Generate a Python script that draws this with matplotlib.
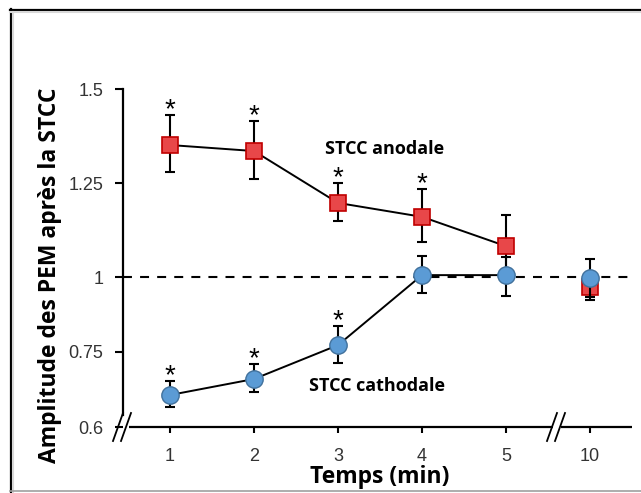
import numpy as np
import matplotlib
matplotlib.use("Agg")
import matplotlib.pyplot as plt
from matplotlib.lines import Line2D

# ---------------- data ----------------
time_labels = ["1", "2", "3", "4", "5", "10"]
anodal = [1.351, 1.335, 1.197, 1.160, 1.082, 0.967]
anodal_err_up = [0.080, 0.080, 0.053, 0.074, 0.083, 0.040]
anodal_err_down = [0.072, 0.074, 0.048, 0.067, 0.082, 0.044]
anodal_sig = [True, True, True, True, False, False]

cathodal = [0.664, 0.696, 0.773, 1.005, 1.005, 0.997]
cathodal_err_up = [0.028, 0.030, 0.064, 0.051, 0.048, 0.051]
cathodal_err_down = [0.024, 0.026, 0.045, 0.058, 0.068, 0.064]
cathodal_sig = [True, True, True, False, False, False]

y_ticks = [0.6, 0.75, 1, 1.25, 1.5]
y_tick_labels = ["0.6", "0.75", "1", "1.25", "1.5"]
reference_level = 1.0

# irregular printed y axis: pixel height of each tick above the x axis
tick_heights = [0, 75, 150, 244, 338]

W, H = 641, 493
fig = plt.figure(figsize=(W / 100, H / 100), dpi=100)

def fx(x):
    return x / W

def fy(y):
    return 1 - y / H

ax_left, ax_right, ax_top, ax_bottom = 123, 632, 89, 427
ax = fig.add_axes([fx(ax_left), fy(ax_bottom), (ax_right - ax_left) / W, (ax_bottom - ax_top) / H])

def fwd(v):
    return np.interp(v, y_ticks, tick_heights)

def inv(p):
    return np.interp(p, tick_heights, y_ticks)

ax.set_yscale("function", functions=(fwd, inv))
ax.set_ylim(0.6, 1.5)
ax.set_xlim(0.44, 6.5)

x = np.arange(1, len(time_labels) + 1)

tick_font = dict(family="Liberation Sans", size=13, color="#333333")

# reference dashed line
ax.plot([0.44, 6.5], [reference_level, reference_level], color="black", lw=1.5,
        dashes=(4.3, 3.9), zorder=1)

red_face, red_edge = "#E84749", "#C00000"
blue_face, blue_edge = "#5B9BD5", "#41719C"

# anodal
ax.errorbar(x, anodal, yerr=[anodal_err_down, anodal_err_up], fmt="none",
            ecolor="black", elinewidth=1.5, capsize=3.5, capthick=1.5, zorder=2)
ax.plot(x[:5], anodal[:5], color="black", lw=1.4, zorder=2)
ax.plot(x, anodal, "s", ms=12, mfc=red_face, mec=red_edge, mew=1.2, zorder=3)

# cathodal
ax.errorbar(x, cathodal, yerr=[cathodal_err_down, cathodal_err_up], fmt="none",
            ecolor="black", elinewidth=1.5, capsize=3.5, capthick=1.5, zorder=4)
ax.plot(x[:5], cathodal[:5], color="black", lw=1.4, zorder=4)
ax.plot(x, cathodal, "o", ms=12.5, mfc=blue_face, mec=blue_edge, mew=1.0, zorder=5)

# significance asterisks
for xi, v, e, s in zip(x, anodal, anodal_err_up, anodal_sig):
    if s:
        ax.annotate("*", xy=(xi, v + e), xytext=(0, -1.5), textcoords="offset points",
                    ha="center", va="baseline", fontsize=20, family="Liberation Sans")
for xi, v, e, s in zip(x, cathodal, cathodal_err_up, cathodal_sig):
    if s:
        ax.annotate("*", xy=(xi, v + e), xytext=(0, -1.5), textcoords="offset points",
                    ha="center", va="baseline", fontsize=20, family="Liberation Sans")

# series labels
lab_font = dict(family="Open Sans", weight="bold", size=13, color="black")
fig.text(fx(385), fy(149), "STCC anodale", ha="center", va="center", **lab_font)
fig.text(fx(377), fy(386), "STCC cathodale", ha="center", va="center", **lab_font)

# axes styling
for s in ["top", "right", "bottom"]:
    ax.spines[s].set_visible(False)
ax.spines["left"].set_linewidth(1.6)
ax.spines["left"].set_bounds(0.624, 1.5)

ax.set_yticks(y_ticks)
ax.set_yticklabels(y_tick_labels, **tick_font)
ax.set_xticks(x)
ax.set_xticklabels(time_labels, **tick_font)
ax.tick_params(axis="y", length=6, width=1.5, pad=8)
ax.tick_params(axis="x", length=4, width=1.5, pad=11)

# x axis line with break
lc = dict(color="black", lw=1.6, solid_capstyle="butt")
fig.add_artist(Line2D([fx(129), fx(553)], [fy(427), fy(427)], **lc))
fig.add_artist(Line2D([fx(561), fx(632)], [fy(427), fy(427)], **lc))
# break slashes
for x0 in (113, 121):
    fig.add_artist(Line2D([fx(x0), fx(x0 + 10)], [fy(441), fy(413)], color="black", lw=1.3))
for x0 in (547, 555):
    fig.add_artist(Line2D([fx(x0), fx(x0 + 10)], [fy(441), fy(413)], color="black", lw=1.3))

# axis titles
title_font = dict(family="Open Sans", weight="bold", size=16.5, color="black")
fig.text(fx(380), fy(477), "Temps (min)", ha="center", va="center", **title_font)
fig.text(fx(50), fy(275), "Amplitude des PEM après la STCC", ha="center", va="center",
         rotation=90, **title_font)

# outer frame (screenshot border)
fig.add_artist(Line2D([fx(10), 1], [fy(9.5), fy(9.5)], color="black", lw=1.6))
fig.add_artist(Line2D([fx(10.5), fx(10.5)], [fy(9), 0], color="black", lw=1.6))
fig.add_artist(Line2D([fx(10), 1], [fy(12), fy(12)], color="#d8d8d8", lw=1.5))
fig.add_artist(Line2D([fx(13), fx(13)], [fy(12), 0], color="#d8d8d8", lw=1.5))
fig.add_artist(Line2D([fx(10), 1], [fy(490.5), fy(490.5)], color="#a0a0a0", lw=1.2))

fig.savefig("out.png", dpi=100)
